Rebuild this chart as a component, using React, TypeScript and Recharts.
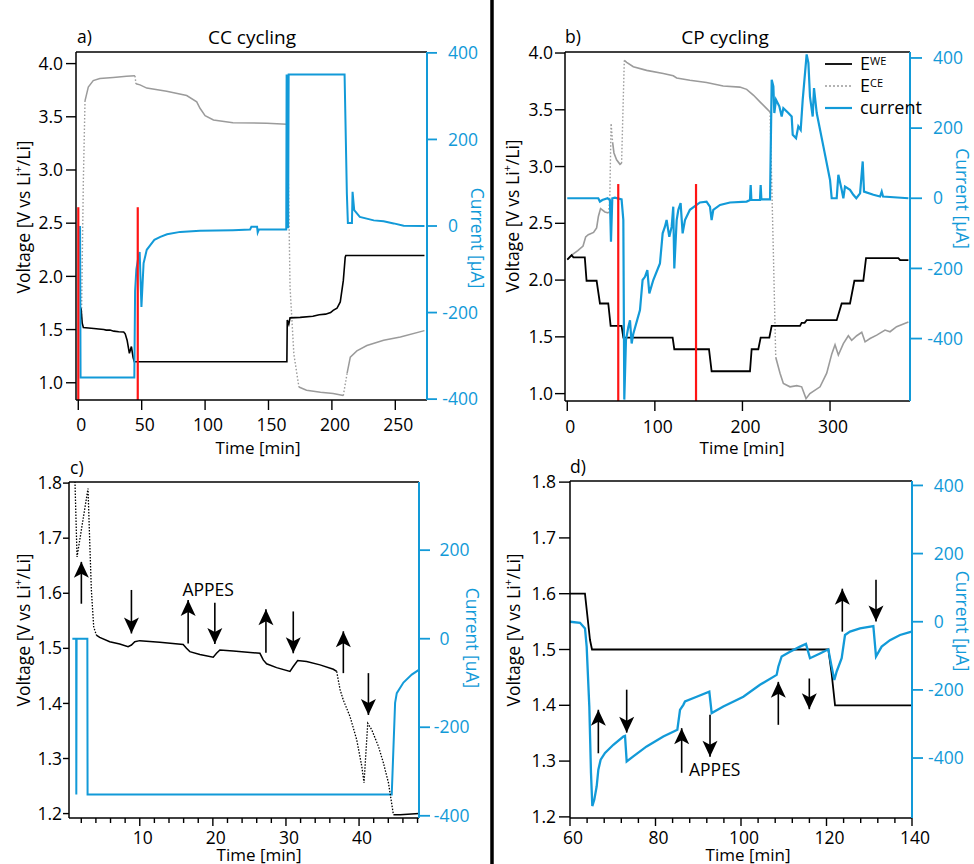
import React from 'react';
import { ComposedChart, Line, Scatter, XAxis, YAxis, ReferenceLine, ReferenceDot, Legend } from 'recharts';

const W = 974;
const H = 864;
const FONT = "'Open Sans', 'DejaVu Sans', sans-serif";
const BLUE = '#129ad8';
const GRAY = '#9b9b9b';
const RED = '#ff1414';
const FS = 17.5;

type Pt = [number, number];
type Row = { t: number; v: number | null };
interface Arrow { t: number; base: number; tip: number }
interface Note { t: number; v: number; text: string; anchor: 'middle' | 'start' }

// ---------------- Panel a (CC cycling) ----------------
const aXTicks = [0, 50, 100, 150, 200, 250];
const aLTicks = [1.0, 1.5, 2.0, 2.5, 3.0, 3.5, 4.0];
const aRTicks = [-400, -200, 0, 200, 400];
const aWE: Pt[] = [[2.2, 1.7], [3.1, 1.56], [4, 1.52], [8, 1.515], [12.3, 1.51], [16, 1.505], [20.1, 1.5], [22, 1.495], [25, 1.495], [28, 1.485], [31.9, 1.48], [35.8, 1.478], [37, 1.46], [38.5, 1.4], [40.3, 1.277], [41.9, 1.34], [43.2, 1.24], [44.2, 1.198], [164.5, 1.198], [164.8, 1.59], [166, 1.55], [167, 1.61], [175, 1.615], [185, 1.625], [190, 1.64], [195, 1.645], [199, 1.66], [201, 1.68], [204, 1.7], [206.6, 1.76], [209, 1.96], [210.5, 2.18], [211, 2.196], [273, 2.196]];
const aCE: Pt[] = [[2.5, 1.6], [4.0, 2.9], [5.3, 3.65], [7.9, 3.78], [11.8, 3.84], [17, 3.86], [27.6, 3.87], [38, 3.88], [44.7, 3.885], [45.5, 3.81], [48.7, 3.8], [54, 3.77], [69.7, 3.74], [85.5, 3.7], [93.4, 3.64], [96, 3.58], [100, 3.51], [106.6, 3.47], [122, 3.445], [148.7, 3.44], [164.5, 3.43], [165.8, 2.84], [167, 1.9], [170, 1.27], [174, 0.96], [180, 0.93], [191, 0.91], [201, 0.9], [209, 0.88], [212, 1.09], [214.5, 1.24], [219.7, 1.3], [227.6, 1.35], [240.8, 1.4], [254, 1.43], [273, 1.49]];
const aCur: Pt[] = [[1.4, 0], [1.8, -350], [44.2, -350], [44.8, -150], [45.8, -100], [47.2, -75], [48.4, -60], [49.8, -187], [51.5, -86], [54, -55], [56.8, -44], [60, -32], [64.7, -25], [70, -19], [80.4, -13.6], [96, -11], [122, -9.6], [135.5, -8], [136.5, -2], [141, -2], [141.5, -15], [142.5, -8], [164, -8], [164.3, 350], [164.7, -5], [165.1, 350], [165.5, -5], [165.9, 350], [210, 350], [211.8, 75], [212.6, 7], [215.8, 7], [216.3, 79], [217.6, 36.6], [222, 21], [233, 13], [240.8, 11], [248.7, 6], [256.6, 0.4], [273, 0]];
const aRedTimes = [0, 46.9];
const aRedTop = 2.65;

// ---------------- Panel b (CP cycling) ----------------
const bXTicks = [0, 100, 200, 300];
const bLTicks = [1.0, 1.5, 2.0, 2.5, 3.0, 3.5, 4.0];
const bRTicks = [-400, -200, 0, 200, 400];
const bWE: Pt[] = [[0, 2.18], [5, 2.22], [7, 2.2], [20, 2.2], [22, 1.994], [33.5, 1.994], [37.3, 1.794], [46.8, 1.794], [49.5, 1.597], [62, 1.597], [64, 1.494], [120.3, 1.494], [122.2, 1.391], [161.8, 1.391], [164.8, 1.197], [208.6, 1.197], [210.5, 1.391], [218.1, 1.391], [220.8, 1.494], [230.7, 1.494], [233.4, 1.597], [265.7, 1.597], [267.6, 1.624], [271, 1.624], [273.3, 1.647], [307.6, 1.647], [313.3, 1.794], [322.8, 1.794], [327.8, 1.994], [338, 1.994], [341.1, 2.194], [378, 2.194], [380, 2.176], [389.5, 2.176]];
const bCE: Pt[] = [[0, 2.18], [5, 2.22], [12, 2.26], [18, 2.3], [21, 2.38], [24, 2.4], [30, 2.42], [33.5, 2.46], [35.5, 2.56], [38, 2.63], [43, 2.6], [47, 2.59], [48.5, 2.7], [50, 3.38], [51.8, 3.21], [53.3, 3.12], [56.3, 3.06], [60.2, 3.02], [62, 3.03], [65.1, 3.935], [67.8, 3.918], [75.4, 3.88], [90.6, 3.847], [109.6, 3.82], [121, 3.8], [124.9, 3.78], [140, 3.76], [159, 3.74], [178, 3.71], [197, 3.7], [204.8, 3.68], [212.4, 3.63], [220, 3.57], [227.7, 3.51], [231.5, 3.48], [235.3, 2.24], [238, 1.32], [242.9, 1.18], [246.7, 1.09], [254.3, 1.06], [262, 1.07], [267.6, 1.06], [272.6, 0.956], [277, 1.0], [288.6, 1.06], [296.2, 1.18], [302, 1.35], [305.7, 1.43], [309.5, 1.34], [315.2, 1.44], [320.9, 1.51], [324.7, 1.47], [330.5, 1.51], [336.2, 1.54], [340, 1.456], [345.7, 1.485], [353.3, 1.515], [362.8, 1.56], [368.5, 1.545], [376, 1.59], [389.5, 1.63]];
const bCur: Pt[] = [[0, 0], [35.4, 0], [37.3, -9.5], [40, -5], [46, 0], [48.7, -5], [49.9, -124], [51.4, 0], [54.4, 2], [62, -3], [64, -62], [65.1, -574], [67, -405], [69.7, -367], [71.6, -348], [73.5, -414], [75.4, -386], [83, -319], [86, -233], [88.7, -224], [91.4, -205], [93.7, -271], [98.2, -233], [105.8, -186], [108.9, -100], [111.5, -81], [113.4, -62], [116.5, -110], [119.2, -81], [121, -24], [122.2, -200], [124.9, -62], [126.8, -33], [129.4, -14], [131.7, -100], [134.4, -62], [140, -33], [151.5, -12], [159, -9.5], [162.9, -24], [164.8, -62], [166.7, -33], [174.4, -19], [185.8, -12], [204.8, -9.5], [208.6, -5], [209.4, 38], [210.2, -5], [220, -5], [220.8, 38], [221.6, -3], [231.5, -3], [233.4, 338], [235.3, 319], [236.4, 243], [238.3, 281], [242.1, 262], [244.8, 233], [246.7, 257], [252.4, 243], [256.2, 233], [257.4, 181], [261.2, 171], [263.8, 205], [266.5, 195], [268.8, 281], [273.3, 410], [275.3, 386], [277.1, 290], [280.2, 233], [281.7, 314], [284.8, 243], [292.4, 148], [300, 52], [301.9, 0], [307.6, 0], [309.5, 67], [313.3, 24], [315.2, 0], [317.1, 33], [322.8, 24], [326.6, 10], [330, 0], [334.3, 14], [337.3, 105], [338.8, 19], [349.5, 10], [357.1, 5], [359, 19], [360.5, 5], [389.5, 0]];
const bRedTimes = [58.2, 147];
const bRedTop = 2.846;

// ---------------- Panel c (zoom of CC) ----------------
const cXTicks = [2, 4, 6, 8, 10, 12, 14, 16, 18, 20, 22, 24, 26, 28, 30, 32, 34, 36, 38, 40, 42, 44, 46, 48];
const cXLabels = [10, 20, 30, 40];
const cLTicks = [1.2, 1.3, 1.4, 1.5, 1.6, 1.7, 1.8];
const cRTicks = [-400, -200, 0, 200];
const cWE1: Pt[] = [[1.08, 1.83], [1.42, 1.666], [2.92, 1.79], [3.15, 1.696], [3.38, 1.606], [3.7, 1.539], [4.06, 1.524]];
const cWE2: Pt[] = [[4.06, 1.524], [4.52, 1.52], [5.89, 1.512], [7.26, 1.508], [8.4, 1.503], [8.86, 1.506], [9.32, 1.512], [10.0, 1.514], [12.74, 1.511], [15.94, 1.507], [16.39, 1.5], [16.85, 1.494], [18.22, 1.489], [20.05, 1.484], [20.5, 1.491], [20.96, 1.497], [22.79, 1.495], [26.44, 1.491], [26.89, 1.479], [27.35, 1.472], [28.72, 1.465], [30.55, 1.458], [31.0, 1.467], [31.6, 1.478], [32.83, 1.476], [34.66, 1.47], [36.48, 1.462], [36.94, 1.458]];
const cWE3: Pt[] = [[36.94, 1.458], [37.4, 1.425], [37.85, 1.406], [38.77, 1.376], [39.68, 1.334], [40.37, 1.286], [40.68, 1.256], [41.19, 1.364], [41.74, 1.352], [42.65, 1.322], [43.33, 1.292], [44.02, 1.256], [44.7, 1.198]];
const cWE4: Pt[] = [[44.7, 1.198], [45.62, 1.198], [48.22, 1.2]];
const cCur: Pt[] = [[0.78, 0], [1.3, 0], [1.32, -352], [1.36, 0], [2.83, 0], [2.86, -352], [44.47, -352], [44.93, -145], [45.16, -123], [46.07, -99], [47.21, -81], [48.22, -70]];
const cArrows: Arrow[] = [
  { t: 2.01, base: 1.581, tip: 1.657 }, { t: 8.86, base: 1.606, tip: 1.527 },
  { t: 16.62, base: 1.509, tip: 1.588 }, { t: 20.27, base: 1.583, tip: 1.508 },
  { t: 27.26, base: 1.492, tip: 1.571 }, { t: 31.0, base: 1.567, tip: 1.491 },
  { t: 37.85, base: 1.455, tip: 1.531 }, { t: 41.28, base: 1.455, tip: 1.379 },
];
const cNotes: Note[] = [{ t: 19.36, v: 1.606, text: 'APPES', anchor: 'middle' }];

// ---------------- Panel d (zoom of CP) ----------------
const dXTicks = [60, 64, 68, 72, 76, 80, 84, 88, 92, 96, 100, 104, 108, 112, 116, 120, 124, 128, 132, 136, 140];
const dXLabels = [60, 80, 100, 120, 140];
const dLTicks = [1.2, 1.3, 1.4, 1.5, 1.6, 1.7, 1.8];
const dRTicks = [-400, -200, 0, 200, 400];
const dWE: Pt[] = [[60, 1.6], [63.5, 1.6], [64.68, 1.517], [65.15, 1.5], [120.43, 1.5], [121.2, 1.457], [122.0, 1.4], [140, 1.4]];
const dCur: Pt[] = [[60, 0], [62.34, -3], [63.51, -19.5], [63.9, -73], [64.52, -249], [64.91, -444], [65.22, -541], [65.69, -522], [66.24, -483], [66.63, -434], [67.17, -405], [68.19, -385], [70.14, -361], [72.48, -337], [72.87, -335], [73.26, -410], [74.81, -395], [77.93, -366], [81.83, -337], [85.11, -317], [85.73, -259], [86.51, -244], [86.9, -234], [89.63, -220], [92.59, -205], [93.14, -268], [95.87, -249], [100.55, -220], [104.44, -185], [108.34, -156], [108.73, -132], [109.51, -102], [111.46, -88], [113.8, -73], [115.2, -65], [116.14, -107], [118.48, -93], [120.43, -81], [121.2, -132], [121.83, -171], [122.38, -146], [123.55, -107], [124.33, -39], [125.5, -29], [127.84, -19.5], [130.96, -13], [131.58, -102], [132.9, -73], [134.85, -54], [137.2, -39], [139.9, -29]];
const dArrows: Arrow[] = [
  { t: 66.63, base: 1.314, tip: 1.392 }, { t: 73.26, base: 1.428, tip: 1.351 },
  { t: 86.12, base: 1.279, tip: 1.359 }, { t: 92.75, base: 1.383, tip: 1.308 },
  { t: 108.73, base: 1.365, tip: 1.442 }, { t: 115.98, base: 1.448, tip: 1.393 },
  { t: 123.7, base: 1.532, tip: 1.609 }, { t: 131.58, base: 1.625, tip: 1.55 },
];
const dNotes: Note[] = [{ t: 87.84, v: 1.285, text: 'APPES', anchor: 'start' }];

// ---------------- legend ----------------
const legendItems = [
  { name: 'E', sup: 'WE', color: '#000', width: 1.8, dash: undefined as string | undefined },
  { name: 'E', sup: 'CE', color: GRAY, width: 1.5, dash: '2 2' },
  { name: 'current', sup: '', color: BLUE, width: 2.2, dash: undefined as string | undefined },
];

const toRows = (pts: Pt[]): Row[] => pts.map(([t, v]) => ({ t, v }));

// split a recorded trace into its slowly varying part (drawn solid) and its
// fast jumps (sparse points, drawn dotted)
const splitSteep = (pts: Pt[], k: number) => {
  const solid: Row[] = [];
  const steep: Row[] = [];
  for (let i = 1; i < pts.length; i++) {
    const [t0, v0] = pts[i - 1];
    const [t1, v1] = pts[i];
    const isSteep = Math.abs((v1 - v0) / Math.max(t1 - t0, 1e-6)) > k;
    const arr = isSteep ? steep : solid;
    const last = arr[arr.length - 1];
    if (!last || last.t !== t0 || last.v !== v0) {
      if (last) arr.push({ t: t0, v: null });
      arr.push({ t: t0, v: v0 });
    }
    arr.push({ t: t1, v: v1 });
  }
  return { solid, steep };
};

interface Series { data: Row[]; color: string; width: number; dash?: string; axis: 'L' | 'R' }
interface Tk { xLen: number; xMinor: number; xOff: number; lLen: number; lGap: number; rLen: number; rGap: number }
interface PanelCfg {
  rect: [number, number, number, number];
  xDomain: [number, number]; lDomain: [number, number]; rDomain: [number, number];
  xTicks: number[]; xLabels: number[]; lTicks: number[]; rTicks: number[];
  series: Series[]; reds?: number[]; redTop?: number; arrows?: Arrow[]; notes?: Note[];
  tk: Tk; legend?: boolean;
}

const renderHead = (p: any) => {
  const { cx, cy, payload } = p;
  if (cx == null || cy == null) return <g />;
  const s = payload.up ? 1 : -1;
  const pts = `${cx},${cy} ${cx + 7.5},${cy + 16 * s} ${cx},${cy + 12 * s} ${cx - 7.5},${cy + 16 * s}`;
  return <polygon points={pts} fill="#000" />;
};

const renderLegend = () => (
  <svg width={150} height={72} style={{ display: 'block', overflow: 'visible' }}>
    {legendItems.map((it, i) => {
      const y = 12 + i * 22;
      return (
        <g key={i}>
          <line x1={5} x2={32} y1={y} y2={y} stroke={it.color} strokeWidth={it.width} strokeDasharray={it.dash} />
          <text x={40} y={y} dy="0.35em" fontSize={18} fill="#000" fontFamily={FONT}>
            {it.name}
            {it.sup ? <tspan dy={-5} fontSize={11}>{it.sup}</tspan> : null}
          </text>
        </g>
      );
    })}
  </svg>
);

function Panel({ cfg }: { cfg: PanelCfg }) {
  const [l, t, r, b] = cfg.rect;
  const margin = { top: t, left: l - 40, right: W - r - 40, bottom: H - b - 20 };
  const heads = (cfg.arrows || []).map((a) => ({ t: a.t, v: a.tip, up: a.tip > a.base }));
  const tk = cfg.tk;
  const xTick = (p: any) => {
    const v = p.payload.value;
    const major = cfg.xLabels.includes(v);
    return (
      <g>
        <line x1={p.x} x2={p.x} y1={p.y} y2={p.y + (major ? tk.xLen : tk.xMinor)} stroke="#000" strokeWidth={1.4} />
        {major ? <text x={p.x + 3} y={p.y + tk.xOff} dy="0.71em" textAnchor="middle" fontSize={FS} fill="#000">{v}</text> : null}
      </g>
    );
  };
  const lTick = (p: any) => (
    <g>
      <line x1={p.x - tk.lLen} x2={p.x} y1={p.y} y2={p.y} stroke="#000" strokeWidth={1.4} />
      <text x={p.x - tk.lGap} y={p.y} dy="0.35em" textAnchor="end" fontSize={FS} fill="#000">{Number(p.payload.value).toFixed(1)}</text>
    </g>
  );
  const rTick = (p: any) => {
    const v = Number(p.payload.value);
    return (
      <g>
        <line x1={p.x} x2={p.x + tk.rLen} y1={p.y} y2={p.y} stroke={BLUE} strokeWidth={1.8} />
        {v < 0 ? <text x={p.x + tk.rGap} y={p.y} dy="0.35em" textAnchor="end" fontSize={FS} fill={BLUE}>-</text> : null}
        <text x={p.x + tk.rGap} y={p.y} dy="0.35em" textAnchor="start" fontSize={FS} fill={BLUE}>{Math.abs(v)}</text>
      </g>
    );
  };
  return (
    <div style={{ position: 'absolute', left: 0, top: 0 }}>
      <ComposedChart width={W} height={H} margin={margin}>
        <XAxis dataKey="t" type="number" domain={cfg.xDomain} allowDataOverflow ticks={cfg.xTicks} interval={0} height={20}
          tickSize={0} tickMargin={0} tickLine={false} axisLine={{ stroke: '#000', strokeWidth: 1.5 }} tick={xTick} />
        <YAxis yAxisId="L" dataKey="v" type="number" orientation="left" width={40} domain={cfg.lDomain} allowDataOverflow
          ticks={cfg.lTicks} interval={0} tickSize={0} tickMargin={0} tickLine={false} axisLine={{ stroke: '#000', strokeWidth: 1.5 }} tick={lTick} />
        <YAxis yAxisId="R" dataKey="v" type="number" orientation="right" width={40} domain={cfg.rDomain} allowDataOverflow
          ticks={cfg.rTicks} interval={0} tickSize={0} tickMargin={0} tickLine={false} axisLine={{ stroke: BLUE, strokeWidth: 2 }} tick={rTick} />
        <ReferenceLine yAxisId="L" y={cfg.lDomain[1]} stroke="#000" strokeWidth={1.5} />
        {cfg.series.map((s, i) => (
          <Line key={'s' + i} yAxisId={s.axis} data={s.data} dataKey="v" type="linear"
            stroke={s.color} strokeWidth={s.width} strokeDasharray={s.dash} dot={false} activeDot={false} isAnimationActive={false} />
        ))}
        {(cfg.reds || []).map((x, i) => (
          <ReferenceLine key={'r' + i} yAxisId="L" segment={[{ x, y: cfg.lDomain[0] }, { x, y: cfg.redTop as number }]}
            stroke={RED} strokeWidth={2.2} ifOverflow="hidden" />
        ))}
        {(cfg.arrows || []).map((a, i) => (
          <ReferenceLine key={'a' + i} yAxisId="L" segment={[{ x: a.t, y: a.base }, { x: a.t, y: a.tip }]} stroke="#000" strokeWidth={1.6} />
        ))}
        {heads.length > 0 ? <Scatter yAxisId="L" data={heads} shape={renderHead} isAnimationActive={false} /> : null}
        {(cfg.notes || []).map((n, i) => (
          <ReferenceDot key={'n' + i} yAxisId="L" x={n.t} y={n.v} r={0} fill="none" stroke="none"
            label={{ value: n.text, position: n.anchor === 'start' ? 'right' : 'center', offset: 0, fontSize: FS, fill: '#000' }} />
        ))}
        {cfg.legend ? (
          <Legend content={renderLegend} layout="horizontal" verticalAlign="middle" align="center"
            wrapperStyle={{ left: 820, top: 52, width: 150, height: 72 }} />
        ) : null}
      </ComposedChart>
    </div>
  );
}

const aCEParts = splitSteep(aCE, 0.06);
const bCEParts = splitSteep(bCE, 0.06);

const panelA: PanelCfg = {
  rect: [76, 52, 427, 400], xDomain: [-1.8, 275], lDomain: [0.838, 4.109], rDomain: [-402, 402],
  xTicks: aXTicks, xLabels: aXTicks, lTicks: aLTicks, rTicks: aRTicks,
  series: [
    { data: aCEParts.steep, color: GRAY, width: 1.4, dash: '1.5 2', axis: 'L' },
    { data: aCEParts.solid, color: GRAY, width: 1.5, axis: 'L' },
    { data: toRows(aWE), color: '#000', width: 1.6, axis: 'L' },
    { data: toRows(aCur), color: BLUE, width: 2, axis: 'R' },
  ],
  reds: aRedTimes, redTop: aRedTop,
  tk: { xLen: 10, xMinor: 6, xOff: 19, lLen: 10, lGap: 13, rLen: 10, rGap: 21 },
};
const panelB: PanelCfg = {
  rect: [565, 52, 910, 401], xDomain: [-2.6, 391.3], lDomain: [0.935, 4.009], rDomain: [-578, 417],
  xTicks: bXTicks, xLabels: bXTicks, lTicks: bLTicks, rTicks: bRTicks,
  series: [
    { data: bCEParts.steep, color: GRAY, width: 1.4, dash: '1.5 2', axis: 'L' },
    { data: bCEParts.solid, color: GRAY, width: 1.6, axis: 'L' },
    { data: toRows(bWE), color: '#000', width: 1.8, axis: 'L' },
    { data: toRows(bCur), color: BLUE, width: 2.2, axis: 'R' },
  ],
  reds: bRedTimes, redTop: bRedTop, legend: true,
  tk: { xLen: 10, xMinor: 6, xOff: 19.5, lLen: 10, lGap: 12, rLen: 12, rGap: 23 },
};
const panelC: PanelCfg = {
  rect: [69, 482, 419, 818], xDomain: [0.32, 48.2], lDomain: [1.192, 1.802], rDomain: [-405, 354],
  xTicks: cXTicks, xLabels: cXLabels, lTicks: cLTicks, rTicks: cRTicks,
  series: [
    { data: toRows(cCur), color: BLUE, width: 2, axis: 'R' },
    { data: toRows(cWE1), color: '#000', width: 1.3, dash: '1.5 1.5', axis: 'L' },
    { data: toRows(cWE2), color: '#000', width: 1.5, axis: 'L' },
    { data: toRows(cWE3), color: '#000', width: 1.3, dash: '1.5 1.5', axis: 'L' },
    { data: toRows(cWE4), color: '#000', width: 1.5, axis: 'L' },
  ],
  arrows: cArrows, notes: cNotes,
  tk: { xLen: 8, xMinor: 5, xOff: 14, lLen: 6, lGap: 7, rLen: 11, rGap: 20.5 },
};
const panelD: PanelCfg = {
  rect: [570, 481, 912, 818], xDomain: [60, 140], lDomain: [1.198, 1.802], rDomain: [-576, 413],
  xTicks: dXTicks, xLabels: dXLabels, lTicks: dLTicks, rTicks: dRTicks,
  series: [
    { data: toRows(dWE), color: '#000', width: 1.8, axis: 'L' },
    { data: toRows(dCur), color: BLUE, width: 2.3, axis: 'R' },
  ],
  arrows: dArrows, notes: dNotes,
  tk: { xLen: 8, xMinor: 5, xOff: 13.5, lLen: 11, lGap: 14, rLen: 11, rGap: 21.7 },
};

const VoltLabel = ({ x, y }: { x: number; y: number }) => (
  <text transform={`translate(${x},${y}) rotate(-90)`} textAnchor="middle" dominantBaseline="central" fontSize={FS} fill="#000">
    Voltage [V vs Li<tspan dy={-6} fontSize={11}>+</tspan><tspan dy={6}>/Li]</tspan>
  </text>
);
const CurLabel = ({ x, y, unit }: { x: number; y: number; unit: string }) => (
  <text transform={`translate(${x},${y}) rotate(90)`} textAnchor="middle" dominantBaseline="central" fontSize={FS} fill={BLUE}>
    {`Current [${unit}]`}
  </text>
);
const TimeLabel = ({ x, y }: { x: number; y: number }) => (
  <text x={x} y={y} textAnchor="middle" dominantBaseline="central" fontSize={17} fill="#000">Time [min]</text>
);

export default function App() {
  return (
    <div style={{ position: 'absolute', left: 0, top: 0, width: W, height: H, background: '#fff', fontFamily: FONT, overflow: 'hidden' }}>
      <Panel cfg={panelA} />
      <Panel cfg={panelB} />
      <Panel cfg={panelC} />
      <Panel cfg={panelD} />
      <svg width={W} height={H} style={{ position: 'absolute', left: 0, top: 0, pointerEvents: 'none' }}>
        <line x1={492} x2={492} y1={0} y2={H} stroke="#000" strokeWidth={3.5} />
        <text x={77} y={36} dominantBaseline="central" fontSize={FS} fill="#000">a)</text>
        <text x={252} y={37} textAnchor="middle" dominantBaseline="central" fontSize={19} fill="#000">CC cycling</text>
        <text x={565} y={36} dominantBaseline="central" fontSize={FS} fill="#000">b)</text>
        <text x={725} y={37} textAnchor="middle" dominantBaseline="central" fontSize={19} fill="#000">CP cycling</text>
        <text x={70} y={467} dominantBaseline="central" fontSize={FS} fill="#000">c)</text>
        <text x={570} y={466} dominantBaseline="central" fontSize={FS} fill="#000">d)</text>
        <TimeLabel x={258} y={447} />
        <TimeLabel x={742} y={447} />
        <TimeLabel x={259} y={854} />
        <TimeLabel x={748} y={854} />
        <VoltLabel x={22.5} y={217} />
        <VoltLabel x={512} y={216} />
        <VoltLabel x={22.5} y={630} />
        <VoltLabel x={512.5} y={630} />
        <CurLabel x={478} y={238} unit="µA" />
        <CurLabel x={963} y={198.5} unit="µA" />
        <CurLabel x={472.5} y={638} unit="uA" />
        <CurLabel x={963} y={621} unit="µA" />
      </svg>
    </div>
  );
}
